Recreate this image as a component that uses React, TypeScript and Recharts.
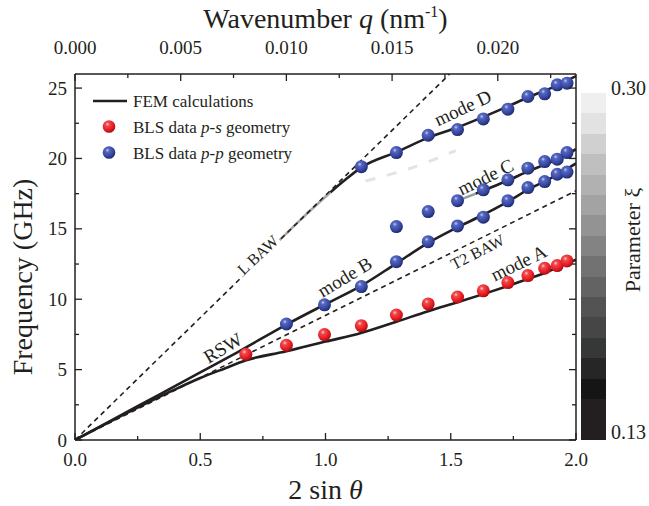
import React from "react"
import { ComposedChart, Line, Scatter, XAxis, YAxis, Legend, ReferenceDot } from "recharts"

const INK = "#231f20"
const SERIF = '"Liberation Serif", "Times New Roman", serif'
const PLOT = { left: 75, right: 576, top: 74, bottom: 440 }

// BLS data, p-s geometry (2 sin theta, GHz)
const psX = [0.682, 0.844, 0.996, 1.143, 1.283, 1.41, 1.527, 1.63, 1.728, 1.808, 1.875, 1.925, 1.964]
const psY = [6.09, 6.73, 7.49, 8.12, 8.88, 9.67, 10.16, 10.6, 11.18, 11.68, 12.2, 12.39, 12.72]

// BLS data, p-p geometry
const ppBX = [0.844, 0.996, 1.143, 1.283, 1.41, 1.527, 1.63, 1.728, 1.808, 1.875, 1.925, 1.964]
const ppBY = [8.24, 9.6, 10.9, 12.67, 14.09, 15.21, 15.83, 16.99, 17.93, 18.36, 18.88, 19.03]
const ppCX = [1.283, 1.41, 1.527, 1.63, 1.728, 1.808, 1.875, 1.925, 1.964]
const ppCY = [15.16, 16.23, 17.0, 17.77, 18.48, 19.31, 19.78, 19.95, 20.42]
const ppDX = [1.143, 1.283, 1.41, 1.527, 1.63, 1.728, 1.808, 1.875, 1.925, 1.964]
const ppDY = [19.42, 20.42, 21.65, 22.05, 22.81, 23.5, 24.4, 24.59, 25.23, 25.35]

// FEM calculations
const femAX = [0, 0.25, 0.4, 0.5, 0.6, 0.68, 0.844, 1.0, 1.142, 1.283, 1.41, 1.53, 1.633, 1.728, 1.81, 1.88, 1.964, 2.0]
const femAY = [0, 2.3, 3.6, 4.4, 5.1, 5.65, 6.3, 6.99, 7.6, 8.4, 9.15, 9.8, 10.38, 10.94, 11.45, 11.9, 12.56, 12.8]
const femBX = [0, 0.25, 0.5, 0.65, 0.844, 1.0, 1.142, 1.283, 1.405, 1.52, 1.63, 1.73, 1.81, 1.9, 2.0]
const femBY = [0, 2.4, 4.8, 6.25, 8.2, 9.65, 10.95, 12.55, 13.95, 15.05, 16.0, 16.95, 17.8, 18.6, 19.65]
const femCFadeX = [1.52, 1.6]
const femCFadeY = [16.95, 17.5]
const femCX = [1.6, 1.63, 1.73, 1.81, 1.88, 1.964, 2.0]
const femCY = [17.5, 17.72, 18.45, 19.1, 19.6, 20.3, 20.66]
const femDFadeX = [0.78, 0.9, 1.02]
const femDFadeY = [13.55, 15.64, 17.6]
const femDX = [1.02, 1.08, 1.142, 1.283, 1.42, 1.526, 1.63, 1.728, 1.81, 1.9, 2.0]
const femDY = [17.6, 18.5, 19.35, 20.45, 21.55, 22.2, 22.95, 23.7, 24.35, 25.0, 25.85]
const ghostX = [1.16, 1.33, 1.52]
const ghostY = [18.4, 19.25, 20.55]

// bulk waves
const lBawX = [0, 1.496]
const lBawY = [0, 26]
const t2BawX = [0, 2.0]
const t2BawY = [0, 17.7]

const xTicks = [0, 0.25, 0.5, 0.75, 1, 1.25, 1.5, 1.75, 2]
const yTicks = [0, 2.5, 5, 7.5, 10, 12.5, 15, 17.5, 20, 22.5, 25]
const qTicks = [0, 0.0025, 0.005, 0.0075, 0.01, 0.0125, 0.015, 0.0175, 0.02, 0.0225]
const Q_AT_2 = 0.0237 // wavenumber at 2 sin(theta) = 2

// labels sitting on a dashed line get a white box behind them
const notes = [
  { text: "L BAW", x: 0.73, y: 13.15, angle: -43, size: 16, boxed: true },
  { text: "RSW", x: 0.59, y: 6.54, angle: -31, size: 19, boxed: false },
  { text: "mode B", x: 1.077, y: 11.58, angle: -31, size: 19, boxed: false },
  { text: "T2 BAW", x: 1.607, y: 13.36, angle: -27, size: 16, boxed: true },
  { text: "mode A", x: 1.771, y: 12.58, angle: -26, size: 19, boxed: false },
  { text: "mode C", x: 1.639, y: 18.69, angle: -26, size: 19, boxed: false },
  { text: "mode D", x: 1.548, y: 23.6, angle: -25, size: 19, boxed: false },
]

const xiShades = [
  "#efefef", "#e2e2e2", "#d0d0d0", "#bfbfbf", "#b1b1b1", "#a3a3a3", "#939393", "#838383", "#727272",
  "#636363", "#535353", "#464646", "#363838", "#262626", "#151515", "#231f20", "#231f20",
]
const xiLabels = ["0.30", "0.13"]

const zip = (xs: number[], ys: number[]) => xs.map((x, i) => ({ x, y: ys[i] }))

const redBall = (p: any) => <circle cx={p.cx} cy={p.cy} r={6.5} fill="url(#redBall)" />
const blueBall = (p: any) => <circle cx={p.cx} cy={p.cy} r={6.5} fill="url(#blueBall)" />

function BottomTick(props: any) {
  const { x, payload } = props
  const v = payload.value as number
  const major = Math.abs(v * 2 - Math.round(v * 2)) < 1e-6
  return (
    <g>
      <line x1={x} x2={x} y1={PLOT.bottom} y2={PLOT.bottom - (major ? 7 : 4)} stroke={INK} strokeWidth={1.3} />
      {major ? (
        <text x={x} y={PLOT.bottom + 26} textAnchor="middle" fontFamily={SERIF} fontSize={19} fill={INK}>
          {v.toFixed(1)}
        </text>
      ) : null}
    </g>
  )
}

// top axis shares the 2 sin(theta) scale; its ticks are wavenumbers
function TopTick(props: any) {
  const { x, payload } = props
  const q = ((payload.value as number) * Q_AT_2) / 2
  const major = Math.abs(q / 0.005 - Math.round(q / 0.005)) < 1e-6
  return (
    <g>
      <line x1={x} x2={x} y1={PLOT.top} y2={PLOT.top + (major ? 7 : 4)} stroke={INK} strokeWidth={1.3} />
      {major ? (
        <text x={x} y={PLOT.top - 20} textAnchor="middle" fontFamily={SERIF} fontSize={19} fill={INK}>
          {q.toFixed(3)}
        </text>
      ) : null}
    </g>
  )
}

function LeftTick(props: any) {
  const { y, payload } = props
  const v = payload.value as number
  const major = v % 5 === 0
  return (
    <g>
      <line x1={PLOT.left} x2={PLOT.left + (major ? 7 : 4)} y1={y} y2={y} stroke={INK} strokeWidth={1.3} />
      {major ? (
        <text x={PLOT.left - 8} y={y + 6.5} textAnchor="end" fontFamily={SERIF} fontSize={19} fill={INK}>
          {v}
        </text>
      ) : null}
    </g>
  )
}

function RightTick(props: any) {
  const { y, payload } = props
  const major = (payload.value as number) % 5 === 0
  return <line x1={PLOT.right} x2={PLOT.right - (major ? 7 : 4)} y1={y} y2={y} stroke={INK} strokeWidth={1.3} />
}

function Ball({ cx, cy, color }: { cx: number; cy: number; color: string }) {
  return <circle cx={cx} cy={cy} r={6.3} fill={`url(#${color}BallL)`} />
}

function LegendBox() {
  return (
    <svg width={240} height={80} style={{ display: "block" }}>
      <defs>
        <radialGradient id="redBallL" cx="38%" cy="32%" r="70%">
          <stop offset="0%" stopColor="#ffd0d0" />
          <stop offset="22%" stopColor="#f24a4e" />
          <stop offset="70%" stopColor="#e3191f" />
          <stop offset="100%" stopColor="#a30d12" />
        </radialGradient>
        <radialGradient id="blueBallL" cx="38%" cy="32%" r="70%">
          <stop offset="0%" stopColor="#c8d0f4" />
          <stop offset="22%" stopColor="#5567c0" />
          <stop offset="70%" stopColor="#3445a0" />
          <stop offset="100%" stopColor="#1c2766" />
        </radialGradient>
      </defs>
      <line x1={5} x2={39} y1={15} y2={15} stroke={INK} strokeWidth={2.6} />
      <text x={45} y={20.5} fontFamily={SERIF} fontSize={17} fill={INK}>FEM calculations</text>
      <Ball cx={21} cy={40.5} color="red" />
      <text x={45} y={46.5} fontFamily={SERIF} fontSize={17} fill={INK}>
        BLS data <tspan fontStyle="italic">p</tspan>-<tspan fontStyle="italic">s</tspan> geometry
      </text>
      <Ball cx={21} cy={66.5} color="blue" />
      <text x={45} y={73} fontFamily={SERIF} fontSize={17} fill={INK}>
        BLS data <tspan fontStyle="italic">p</tspan>-<tspan fontStyle="italic">p</tspan> geometry
      </text>
    </svg>
  )
}

export default function App() {
  const fem = { stroke: INK, strokeWidth: 2.6, dot: false, isAnimationActive: false, type: "monotone" as const }
  const axisLine = { stroke: INK, strokeWidth: 1.5 }
  return (
    <div style={{ position: "absolute", left: 0, top: 0, width: 649, height: 506, background: "#fff" }}>
      <ComposedChart width={649} height={506} margin={{ top: 34, right: 63, bottom: 26, left: 30 }}>
        <defs>
          <radialGradient id="redBall" cx="38%" cy="32%" r="70%">
            <stop offset="0%" stopColor="#ffd0d0" />
            <stop offset="22%" stopColor="#f24a4e" />
            <stop offset="70%" stopColor="#e3191f" />
            <stop offset="100%" stopColor="#a30d12" />
          </radialGradient>
          <radialGradient id="blueBall" cx="38%" cy="32%" r="70%">
            <stop offset="0%" stopColor="#c8d0f4" />
            <stop offset="22%" stopColor="#5567c0" />
            <stop offset="70%" stopColor="#3445a0" />
            <stop offset="100%" stopColor="#1c2766" />
          </radialGradient>
        </defs>
        <XAxis
          dataKey="x"
          type="number"
          domain={[0, 2]}
          ticks={xTicks}
          interval={0}
          height={40}
          allowDataOverflow
          tickLine={false}
          axisLine={axisLine}
          tick={<BottomTick />}
          label={{
            content: () => (
              <text x={(PLOT.left + PLOT.right) / 2} y={499} textAnchor="middle" fontFamily={SERIF} fontSize={28} fill={INK}>
                2 sin <tspan fontStyle="italic">θ</tspan>
              </text>
            ),
          }}
        />
        <XAxis
          xAxisId="top"
          orientation="top"
          dataKey="x"
          type="number"
          domain={[0, 2]}
          ticks={qTicks.map((q) => (q * 2) / Q_AT_2)}
          interval={0}
          height={40}
          allowDataOverflow
          tickLine={false}
          axisLine={axisLine}
          tick={<TopTick />}
          label={{
            content: () => (
              <text x={(PLOT.left + PLOT.right) / 2} y={28} textAnchor="middle" fontFamily={SERIF} fontSize={28} fill={INK}>
                Wavenumber <tspan fontStyle="italic">q</tspan> (nm
                <tspan dy={-11} fontSize={16}>-1</tspan>
                <tspan dy={11}>)</tspan>
              </text>
            ),
          }}
        />
        <YAxis
          dataKey="y"
          type="number"
          domain={[0, 26]}
          ticks={yTicks}
          interval={0}
          width={45}
          allowDataOverflow
          tickLine={false}
          axisLine={axisLine}
          tick={<LeftTick />}
          label={{
            content: () => (
              <text
                x={22}
                y={277}
                transform="rotate(-90, 22, 277)"
                textAnchor="middle"
                dominantBaseline="central"
                fontFamily={SERIF}
                fontSize={28}
                fill={INK}
              >
                Frequency (GHz)
              </text>
            ),
          }}
        />
        <YAxis
          yAxisId="right"
          orientation="right"
          dataKey="y"
          type="number"
          domain={[0, 26]}
          ticks={yTicks}
          interval={0}
          width={10}
          allowDataOverflow
          tickLine={false}
          axisLine={axisLine}
          tick={<RightTick />}
        />
        <Legend
          layout="horizontal"
          verticalAlign="middle"
          align="center"
          wrapperStyle={{ left: 88, top: 86, width: 240 }}
          content={() => <LegendBox />}
        />

        <Line data={zip(femDFadeX, femDFadeY)} dataKey="y" {...fem} stroke="#a8a8a8" />
        <Line data={zip(ghostX, ghostY)} dataKey="y" {...fem} stroke="#e4e4e4" strokeWidth={3} strokeDasharray="10 12" />
        <Line data={zip(lBawX, lBawY)} dataKey="y" {...fem} type="linear" strokeWidth={1.6} strokeDasharray="5 4" />
        <Line
          data={zip(t2BawX, t2BawY)}
          dataKey="y"
          xAxisId="top"
          yAxisId="right"
          {...fem}
          type="linear"
          strokeWidth={1.6}
          strokeDasharray="5 4"
        />
        <Line data={zip(femAX, femAY)} dataKey="y" {...fem} />
        <Line data={zip(femBX, femBY)} dataKey="y" {...fem} />
        <Line data={zip(femCFadeX, femCFadeY)} dataKey="y" {...fem} stroke="#9a9a9a" />
        <Line data={zip(femCX, femCY)} dataKey="y" {...fem} />
        <Line data={zip(femDX, femDY)} dataKey="y" {...fem} />

        {notes.map((n) => (
          <ReferenceDot
            key={n.text}
            x={n.x}
            y={n.y}
            r={0}
            shape={(p: any) => (
              <g transform={`rotate(${n.angle}, ${p.cx}, ${p.cy})`}>
                {n.boxed ? (
                  <rect x={p.cx - n.text.length * 5.2} y={p.cy - 6} width={n.text.length * 10.4} height={12} fill="#fff" />
                ) : null}
                <text
                  x={p.cx}
                  y={p.cy}
                  textAnchor="middle"
                  dominantBaseline="central"
                  fontFamily={SERIF}
                  fontSize={n.size}
                  fill={INK}
                >
                  {n.text}
                </text>
              </g>
            )}
          />
        ))}

        <Scatter data={zip(psX, psY)} shape={redBall} isAnimationActive={false} />
        <Scatter data={zip(ppBX, ppBY)} shape={blueBall} isAnimationActive={false} />
        <Scatter data={zip(ppCX, ppCY)} shape={blueBall} isAnimationActive={false} />
        <Scatter data={zip(ppDX, ppDY)} shape={blueBall} isAnimationActive={false} />
      </ComposedChart>

      <div style={{ position: "absolute", left: 581, top: 93, width: 25, height: 347, display: "flex", flexDirection: "column" }}>
        {xiShades.map((c, i) => (
          <div key={i} style={{ flex: 1, background: c }} />
        ))}
      </div>
      <div style={{ position: "absolute", left: 611, top: 77, fontFamily: SERIF, fontSize: 20, lineHeight: "23px", color: INK }}>
        {xiLabels[0]}
      </div>
      <div style={{ position: "absolute", left: 611, top: 421, fontFamily: SERIF, fontSize: 20, lineHeight: "23px", color: INK }}>
        {xiLabels[1]}
      </div>
      <svg style={{ position: "absolute", left: 610, top: 120, overflow: "visible" }} width={40} height={250}>
        <text
          x={22}
          y={120}
          transform="rotate(-90, 22, 120)"
          textAnchor="middle"
          dominantBaseline="central"
          fontFamily={SERIF}
          fontSize={22}
          fill={INK}
        >
          Parameter ξ
        </text>
      </svg>
    </div>
  )
}
